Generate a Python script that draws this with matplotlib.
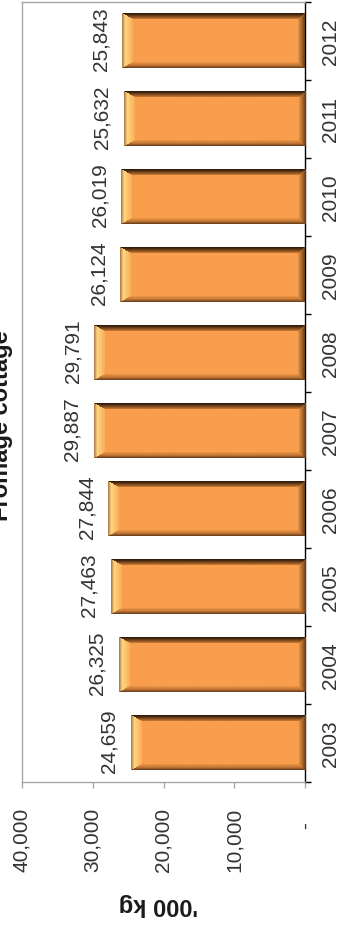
import matplotlib
matplotlib.use('Agg')
import matplotlib.pyplot as plt
import matplotlib.transforms as mtrans
from matplotlib import font_manager
import numpy as np

years = ['2003', '2004', '2005', '2006', '2007', '2008', '2009', '2010', '2011', '2012']
values = [24659, 26325, 27463, 27844, 29887, 29791, 26124, 26019, 25632, 25843]
value_ticks = [0, 10000, 20000, 30000, 40000]
value_tick_labels = ['-', '10,000', '20,000', '30,000', '40,000']
title = 'Fromage cottage \u00b9'
axis_label = "'000 kg"

plt.rcParams['font.family'] = ['Liberation Sans', 'DejaVu Sans']

# the reference is stretched across, so rotated text looks condensed
try:
    font_manager.findfont('Liberation Sans Narrow', fallback_to_default=False)
    ROT_FONT, ROT_SIZE, TITLE_SIZE = ['Liberation Sans Narrow', 'Liberation Sans'], 17, 20
except ValueError:
    ROT_FONT, ROT_SIZE, TITLE_SIZE = ['Liberation Sans', 'DejaVu Sans'], 15, 17

TEXT = '#333333'
GRAY = '#a6a6a6'
BASE = (249, 158, 76)


def ramp(t, stops):
    ''' Interpolates RGB stops [(t, (r, g, b)), ...] at positions t. '''
    ts = [s[0] for s in stops]
    return np.stack([np.interp(t, ts, [s[1][k] for s in stops]) for k in range(3)], axis=-1)


def bevel_image(h, w):
    ''' Builds an Excel-like bevelled bar (left end = bar tip, right end = baseline). '''
    r = np.arange(h)[:, None] + 0.5
    c = np.arange(w)[None, :] + 0.5
    dist = np.stack(np.broadcast_arrays(r / 6.0, (h - r) / 6.0, c / 11.0, (w - c) / 7.0))
    facet = dist.argmin(axis=0)
    t = np.clip(dist.min(axis=0), 0, 1)

    img = np.empty((h, w, 3))
    img[:] = BASE
    facets = [
        [(0, (35, 20, 8)), (0.4, (95, 55, 22)), (1, (205, 125, 52))],          # top
        [(0, (95, 58, 25)), (0.5, (200, 122, 55)), (1, (238, 150, 70))],       # bottom
        [(0, (165, 115, 65)), (0.3, (255, 214, 128)), (1, (250, 172, 88))],    # tip
        [(0, (95, 58, 25)), (0.5, (170, 105, 45)), (1, (235, 148, 70))],       # base end
    ]
    inside = dist.min(axis=0) < 1
    for k, stops in enumerate(facets):
        m = (facet == k) & inside
        img[m] = ramp(t[m], stops)
    return img / 255.0


fig = plt.figure(figsize=(3.39, 9.28), dpi=100)
ax = fig.add_axes([22 / 339, 145 / 928, 283 / 339, 780 / 928])

pos = np.arange(len(years))
bar_h = 0.7
bars = ax.barh(pos, values, height=bar_h, color=np.array(BASE) / 255, zorder=2)
ax.set_xlim(40000, 0)
ax.set_ylim(-0.5, len(years) - 0.5)

for p, v in zip(pos, values):
    (x0, y0), (x1, y1) = ax.transData.transform([(0, p - bar_h / 2), (v, p + bar_h / 2)])
    w_px, h_px = int(round(abs(x1 - x0))), int(round(abs(y1 - y0)))
    ax.imshow(bevel_image(h_px, w_px), extent=(v, 0, p - bar_h / 2, p + bar_h / 2),
              origin='upper', aspect='auto', interpolation='bilinear', zorder=3)
    ax.annotate(f'{v:,}', xy=(v, p), xytext=(-8.5, 2.2), textcoords='offset points',
                rotation=90, ha='right', va='center', fontsize=ROT_SIZE,
                family=ROT_FONT, color=TEXT)

ax.set_xlim(40000, 0)
ax.set_ylim(-0.5, len(years) - 0.5)

# frame
for side in ('left', 'top', 'bottom'):
    ax.spines[side].set_color(GRAY)
    ax.spines[side].set_linewidth(1)
ax.spines['right'].set_color('black')
ax.spines['right'].set_linewidth(1)

# category axis (right side)
ax.yaxis.tick_right()
ax.set_yticks(pos, labels=years, rotation=90, va='center', family=ROT_FONT)
ax.set_yticks(np.arange(-0.5, len(years)), minor=True)
ax.tick_params(axis='y', which='major', length=0, pad=11.5, labelsize=ROT_SIZE, labelcolor=TEXT)
ax.tick_params(axis='y', which='minor', length=4.3, width=1, color='black', direction='out')

# value axis (bottom)
ax.set_xticks(value_ticks, labels=value_tick_labels, rotation=90, family=ROT_FONT)
ax.tick_params(axis='x', length=4.3, width=1, color=GRAY, pad=13.5, labelsize=ROT_SIZE,
               labelcolor=TEXT)

# the "-" for zero sits lower, like Excel's accounting format
for tick in ax.xaxis.get_major_ticks():
    if tick.label1.get_text() == '-':
        tick.label1.set_transform(tick.label1.get_transform() +
                                  mtrans.ScaledTranslation(0, -0.14, fig.dpi_scale_trans))

fig.text(8 / 339, 1 - 418 / 928, title, rotation=90, rotation_mode='anchor',
         ha='center', va='baseline', fontsize=TITLE_SIZE, fontweight='bold',
         family=ROT_FONT, color='#1a1a1a')
fig.text(158 / 339, 1 - 898 / 928, axis_label, rotation=180, rotation_mode='anchor',
         ha='center', va='baseline', fontsize=17, fontweight='bold', color='#1a1a1a')

fig.savefig('out.png', dpi=100)
